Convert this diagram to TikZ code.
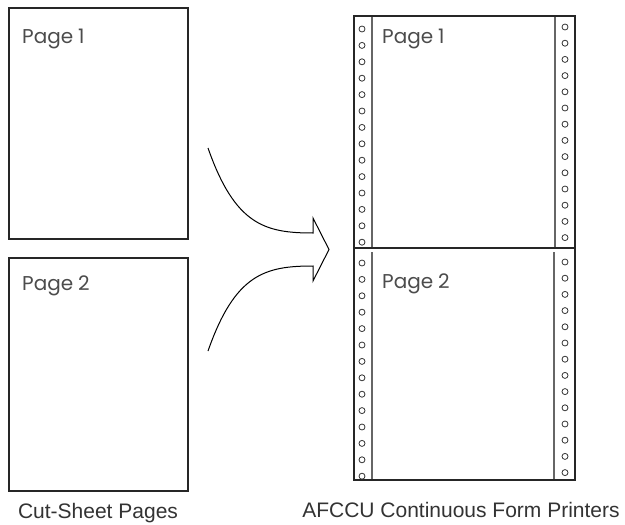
\documentclass[tikz,border=0pt]{standalone}
\usepackage{fontspec}
\setmainfont{Liberation Sans}
\newfontfamily\pagefont{Poppins}
\begin{document}
\begin{tikzpicture}[x=1pt,y=-1pt,
  sheet/.style={draw=black!85, line width=1.1pt},
  strip/.style={draw=black!60, line width=1.4pt},
  hole/.style={draw=black!80, line width=0.8pt},
  pagelbl/.style={font=\pagefont\fontsize{20}{20}\selectfont, text=black!70, anchor=base west, inner sep=0pt},
  caption/.style={font=\fontsize{21}{21}\selectfont, text=black!80, anchor=base, inner sep=0pt},
  arrowline/.style={draw=black, line width=1pt, line join=miter}]
\useasboundingbox (0,0) rectangle (625,525);
% cut sheets
\draw[sheet] (9,8) rectangle (188,239);
\draw[sheet] (9,258) rectangle (188,491);
\node[pagelbl] (p1) at (22,43) {Page\kern0.25em 1};
\node[pagelbl] (p2) at (22,290) {Page\kern0.25em 2};
% continuous form
\draw[strip] (372,16) -- (372,248);
\draw[strip] (555,16) -- (555,248);
\draw[strip] (372,252) -- (372,480);
\draw[strip] (554,252) -- (554,480);
\draw[sheet] (354,16) rectangle (575,480);
\draw[sheet] (354,248) -- (575,248);
\foreach \k in {0,...,13}{
  \draw[hole] (362,29+16.4*\k) circle (3);
  \draw[hole] (362,263+16.4*\k) circle (3);
  \draw[hole] (565,27+16.2*\k) circle (3);
  \draw[hole] (565,262+16.2*\k) circle (3);
}
\node[pagelbl] (q1) at (382,43) {Page\kern0.25em 1};
\node[pagelbl] (q2) at (382,288) {Page\kern0.25em 2};
% arrow
\coordinate (a0) at (208,148);
\coordinate (a1) at (313,233);
\coordinate (a2) at (313,218);
\coordinate (tip) at (329,249.5);
\coordinate (a3) at (313,281);
\coordinate (a4) at (313,266);
\coordinate (a5) at (208,351);
\draw[arrowline] (a0) .. controls (235,225) and (265,233) .. (a1) -- (a2) -- (tip) -- (a3) -- (a4) .. controls (265,266) and (235,274) .. (a5);
% captions
\node[caption] (c1) at (98,518) {Cut-Sheet Pages};
\node[caption] (c2) at (461,517) {AFCCU Continuous Form Printers};
\end{tikzpicture}
\end{document}
